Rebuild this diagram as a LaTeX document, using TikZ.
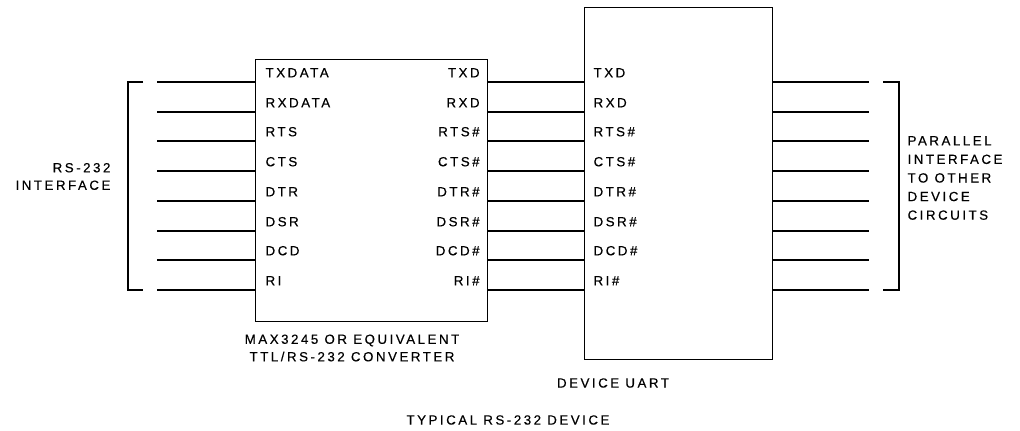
\documentclass[tikz,border=0pt]{standalone}
\usepackage{fontspec}
\setmainfont{Liberation Sans}[LetterSpace=19,FakeBold=0.4]
\begin{document}
\begin{tikzpicture}[x=1pt,y=-1pt,line width=1.2pt,
  txt/.style={font=\fontsize{13.3}{17.5}\selectfont,inner sep=0pt},
  pinl/.style={txt,anchor=base west},
  pinr/.style={txt,anchor=base east},
  chip/.style={draw,anchor=north west,inner sep=0pt}]
\useasboundingbox (0,0) rectangle (1020,431);
% boxes
\node[chip,minimum width=232pt,minimum height=262pt] (conv) at (255,59) {};
\node[chip,minimum width=188pt,minimum height=352pt] (uart) at (584,7) {};
% rows
\foreach \i/\yy/\la/\lb in {0/82/TXDATA/TXD,1/112/RXDATA/RXD,2/141/RTS/RTS\#,3/171/CTS/CTS\#,4/201/DTR/DTR\#,5/231/DSR/DSR\#,6/260/DCD/DCD\#,7/290/RI/RI\#}{
  \coordinate (a\i) at (157,\yy);
  \coordinate (z\i) at (869,\yy);
  \coordinate (cl\i) at (conv.west |- a\i);
  \coordinate (cr\i) at (conv.east |- a\i);
  \coordinate (ul\i) at (uart.west |- a\i);
  \coordinate (ur\i) at (uart.east |- a\i);
  \draw (a\i) -- (cl\i);
  \draw (cr\i) -- (ul\i);
  \draw (ur\i) -- (z\i);
  \node[pinl] (p1\i) at ([xshift=10pt,yshift=4.7pt]cl\i) {\la};
  \node[pinr] (p2\i) at ([xshift=-8pt,yshift=4.7pt]cr\i) {\lb};
  \node[pinl] (p3\i) at ([xshift=9pt,yshift=4.7pt]ul\i) {\lb};
}
% brackets
\coordinate (lbt) at (143,82);
\coordinate (lbb) at (143,290);
\draw (lbt) -- ++(-15,0) |- (lbb);
\coordinate (rbt) at (883,82);
\coordinate (rbb) at (883,290);
\draw (rbt) -- ++(16,0) |- (rbb);
% labels
\node[txt,align=right,anchor=east] (rs) at (111,176.5) {RS-232\\INTERFACE};
\node[txt,align=left,anchor=west,font=\fontsize{13.3}{18.6}\selectfont] (par) at (907,178) {PARALLEL\\INTERFACE\\TO OTHER\\DEVICE\\CIRCUITS};
\node[txt,align=center] (convlbl) at (352,348) {MAX3245 OR EQUIVALENT\\TTL/RS-232 CONVERTER};
\node[txt] (uartlbl) at (613,383) {DEVICE UART};
\node[txt] (title) at (508,420) {TYPICAL RS-232 DEVICE};
\end{tikzpicture}
\end{document}
